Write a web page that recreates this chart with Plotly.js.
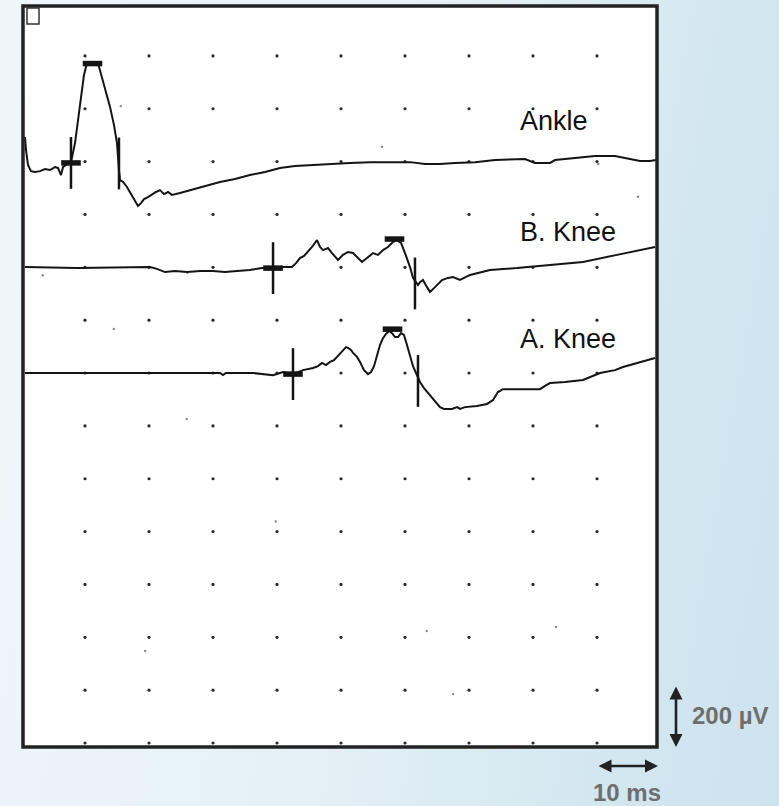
<!DOCTYPE html>
<html>
<head>
<meta charset="utf-8">
<script src="https://cdn.plot.ly/plotly-3.0.1.min.js"></script>
<style>
  html, body { margin: 0; padding: 0; }
  body {
    width: 779px; height: 806px; overflow: hidden;
    background: linear-gradient(100deg, #eef6fa 0%, #e6f1f6 45%, #d3e7f0 80%, #cde3ee 100%);
  }
  #chart { width: 779px; height: 806px; }
</style>
</head>
<body>
<div id="chart"></div>
<script>
// ---------- DATA (time in ms, amplitude in µV relative to each trace baseline) ----------
const traceNames = ["Ankle", "B. Knee", "A. Knee"];
const traceBaselinesUv = [2170, 1800, 1400];   // display offset of each trace

const ankleTimeMs = [0.63,0.78,1.09,1.56,2.19,2.97,3.75,4.53,5.31,5.78,6.25,6.56,7.19,7.81,8.44,8.91,9.38,9.84,10.31,11.09,12.03,12.66,13.28,13.91,14.53,15.0,15.31,15.47,15.94,16.56,17.19,17.81,18.28,18.75,19.22,19.84,20.47,21.09,21.72,22.34,22.97,23.59,24.84,26.41,27.97,29.53,31.09,33.44,35.78,38.13,40.47,42.81,45.16,48.28,51.41,54.53,57.66,60.78,63.13,65.47,67.81,70.94,74.06,78.75,80.31,82.66,83.44,86.56,89.69,92.81,94.38,96.72,98.28,99.2];
const ankleAmpUv = [123,74,17,-6,-9,-6,2,-2,9,6,-21,9,21,28,100,187,274,358,403,407,403,350,293,237,168,100,-2,-40,-47,-66,-93,-119,-138,-127,-112,-104,-93,-85,-78,-93,-85,-96,-89,-78,-70,-59,-47,-36,-21,-9,6,13,17,21,25,28,28,28,21,21,25,28,36,40,25,25,36,44,51,51,44,32,32,36];

const bKneeTimeMs = [0.63,8.75,20.16,21.25,22.5,24.06,25.94,28.0,30.0,31.88,33.75,35.78,37.66,38.91,39.84,40.94,42.34,42.97,43.59,44.22,44.84,45.47,46.25,46.72,47.19,47.97,48.59,49.53,50.31,51.09,51.88,52.5,53.28,54.06,55.0,55.78,56.56,57.34,58.13,58.75,59.38,60.0,60.78,61.25,62.03,62.34,62.81,63.44,63.91,64.69,65.78,66.72,67.5,68.59,70.16,73.28,77.5,82.66,87.81,93.13,95.94,99.06];
const bKneeAmpUv = [1,-3,1,-6,-18,-14,-18,-14,-14,-18,-14,-10,-3,-3,-3,1,1,16,35,43,58,77,103,77,65,73,54,28,47,58,54,39,20,35,54,47,65,77,96,103,92,54,1,-40,-67,-56,-48,-75,-93,-75,-48,-40,-37,-48,-29,-10,-3,9,20,47,62,77];

const aKneeTimeMs = [0.63,12.34,21.72,31.09,31.56,32.03,36.25,39.38,40.94,42.5,44.06,44.84,45.63,46.41,47.03,47.66,48.28,48.91,49.38,49.84,50.31,50.78,51.09,51.56,51.88,52.5,52.97,53.59,54.22,54.69,55.16,55.63,56.09,56.56,57.03,57.5,57.97,58.44,58.91,59.38,59.84,60.31,60.78,61.25,61.72,62.34,62.97,63.59,64.22,64.84,65.47,66.09,67.34,68.13,68.59,69.38,71.25,72.81,73.75,74.53,75.31,77.97,81.09,81.88,82.66,85.0,87.81,90.47,92.81,94.06,96.72,99.06];
const aKneeAmpUv = [0,0,0,0,-8,0,0,-8,4,-4,11,15,19,26,38,30,42,49,61,76,87,98,95,87,76,61,42,11,-4,4,26,68,106,132,148,159,151,136,136,151,144,106,64,26,0,-34,-57,-76,-95,-110,-129,-136,-136,-129,-136,-129,-125,-117,-102,-72,-61,-61,-61,-49,-38,-34,-26,0,11,23,42,57];

// cursor marks per trace: onset (cross), peak (bar), end (tick)
const onsetTimeMs = [7.81, 39.38, 42.5];
const onsetAmpUv  = [25, -3, -4];
const peakTimeMs  = [11.17, 58.36, 58.05];
const peakAmpUv   = [401, 107, 166];
const endTimeMs   = [15.31, 61.56, 62.03];
const endAmpUv    = [23, -61, -30];

// display grid (10 ms x 200 µV divisions)
const gridTimesMs = [10, 20, 30, 40, 50, 60, 70, 80, 90];
const gridLevelsUv = [0, 200, 400, 600, 800, 1000, 1200, 1400, 1600, 1800, 2000, 2200, 2400, 2600];

// stray specks on the screen (absolute display coordinates)
const speckTimeMs = [56.4, 90.2, 96.4, 26.0, 14.5, 3.4, 25.9, 39.8, 19.4, 63.4, 83.6, 67.5, 15.6];
const speckUv     = [2256, 2191, 2067, 1779, 1567, 1770, 1226, 838, 348, 424, 439, 185, 2410];

const scaleBarTexts = ["200 µV", "10 ms"];

// ---------- BUILD ----------
const INK = "#141414";
const traces = [];

// grid dots
const gx = [], gy = [];
gridLevelsUv.forEach(v => gridTimesMs.forEach(t => { gx.push(t); gy.push(v); }));
traces.push({x: gx, y: gy, mode: "markers", type: "scatter", hoverinfo: "skip",
  marker: {size: 3.2, color: "#2a2a2a"}, showlegend: false});

// specks
traces.push({x: speckTimeMs, y: speckUv, mode: "markers", type: "scatter", hoverinfo: "skip",
  marker: {size: 2.4, color: "#8a8a8a"}, showlegend: false});

const series = [[ankleTimeMs, ankleAmpUv], [bKneeTimeMs, bKneeAmpUv], [aKneeTimeMs, aKneeAmpUv]];
series.forEach((s, i) => {
  traces.push({x: s[0], y: s[1].map(a => a + traceBaselinesUv[i]), mode: "lines", type: "scatter",
    name: traceNames[i], line: {color: INK, width: 2}, showlegend: false});
});

const off = (arr) => arr.map((a, i) => a + traceBaselinesUv[i]);
// vertical ticks at onset and end
traces.push({x: onsetTimeMs.concat(endTimeMs), y: off(onsetAmpUv).concat(off(endAmpUv)),
  mode: "markers", type: "scatter", hoverinfo: "skip", showlegend: false,
  marker: {symbol: "line-ns", size: 37, color: INK, line: {color: INK, width: 2.5}}});
// horizontal bars at onset and peak
traces.push({x: onsetTimeMs.concat(peakTimeMs), y: off(onsetAmpUv).concat(off(peakAmpUv)),
  mode: "markers", type: "scatter", hoverinfo: "skip", showlegend: false,
  marker: {symbol: "line-ew", size: 14, color: INK, line: {color: INK, width: 5.5}}});

const labelY = [2352, 1935, 1527];
const annotations = traceNames.map((n, i) => ({
  x: 77.66, y: labelY[i], xref: "x", yref: "y", text: n, showarrow: false,
  xanchor: "left", yanchor: "middle",
  font: {family: "Liberation Sans, Arial, sans-serif", size: 27, color: "#111"}
}));

// scale bars
annotations.push({x: 653/634, y: 0, xref: "paper", yref: "paper", ax: 0, ay: -62, axref: "pixel", ayref: "pixel",
  showarrow: true, arrowside: "end+start", arrowhead: 2, arrowsize: 1, arrowwidth: 2.6, arrowcolor: "#222", text: ""});
annotations.push({x: 667/634, y: (747 - 715) / 741, xref: "paper", yref: "paper", text: "<b>" + scaleBarTexts[0] + "</b>",
  showarrow: false, xanchor: "left", yanchor: "middle",
  font: {family: "Liberation Sans, Arial, sans-serif", size: 24, color: "#6e6e6e"}});
annotations.push({x: 635/634, y: (747 - 766) / 741, xref: "paper", yref: "paper", ax: -61, ay: 0, axref: "pixel", ayref: "pixel",
  showarrow: true, arrowside: "end+start", arrowhead: 2, arrowsize: 1, arrowwidth: 2.6, arrowcolor: "#222", text: ""});
annotations.push({x: (627 - 23) / 634, y: (747 - 793) / 741, xref: "paper", yref: "paper", text: "<b>" + scaleBarTexts[1] + "</b>",
  showarrow: false, xanchor: "center", yanchor: "middle",
  font: {family: "Liberation Sans, Arial, sans-serif", size: 24, color: "#6e6e6e"}});

const layout = {
  width: 779, height: 806,
  margin: {l: 23, r: 122, t: 6, b: 59, pad: 0},
  paper_bgcolor: "rgba(0,0,0,0)", plot_bgcolor: "#ffffff",
  showlegend: false,
  xaxis: {range: [0.3125, 99.375], showgrid: false, zeroline: false, showticklabels: false, ticks: "", showline: false, fixedrange: true},
  yaxis: {range: [-15.1, 2788.8], showgrid: false, zeroline: false, showticklabels: false, ticks: "", showline: false, fixedrange: true},
  shapes: [
    {type: "rect", xref: "paper", yref: "paper", x0: 0, x1: 1, y0: 0, y1: 1, line: {color: "#222", width: 3.5}, layer: "above"},
    {type: "rect", xref: "paper", yref: "paper", x0: 4/634, x1: 16/634, y0: (747-24)/741, y1: (747-8)/741, line: {color: "#333", width: 1.5}, layer: "above"}
  ],
  annotations: annotations
};

Plotly.newPlot("chart", traces, layout, {displayModeBar: false, staticPlot: true});
</script>
</body>
</html>
